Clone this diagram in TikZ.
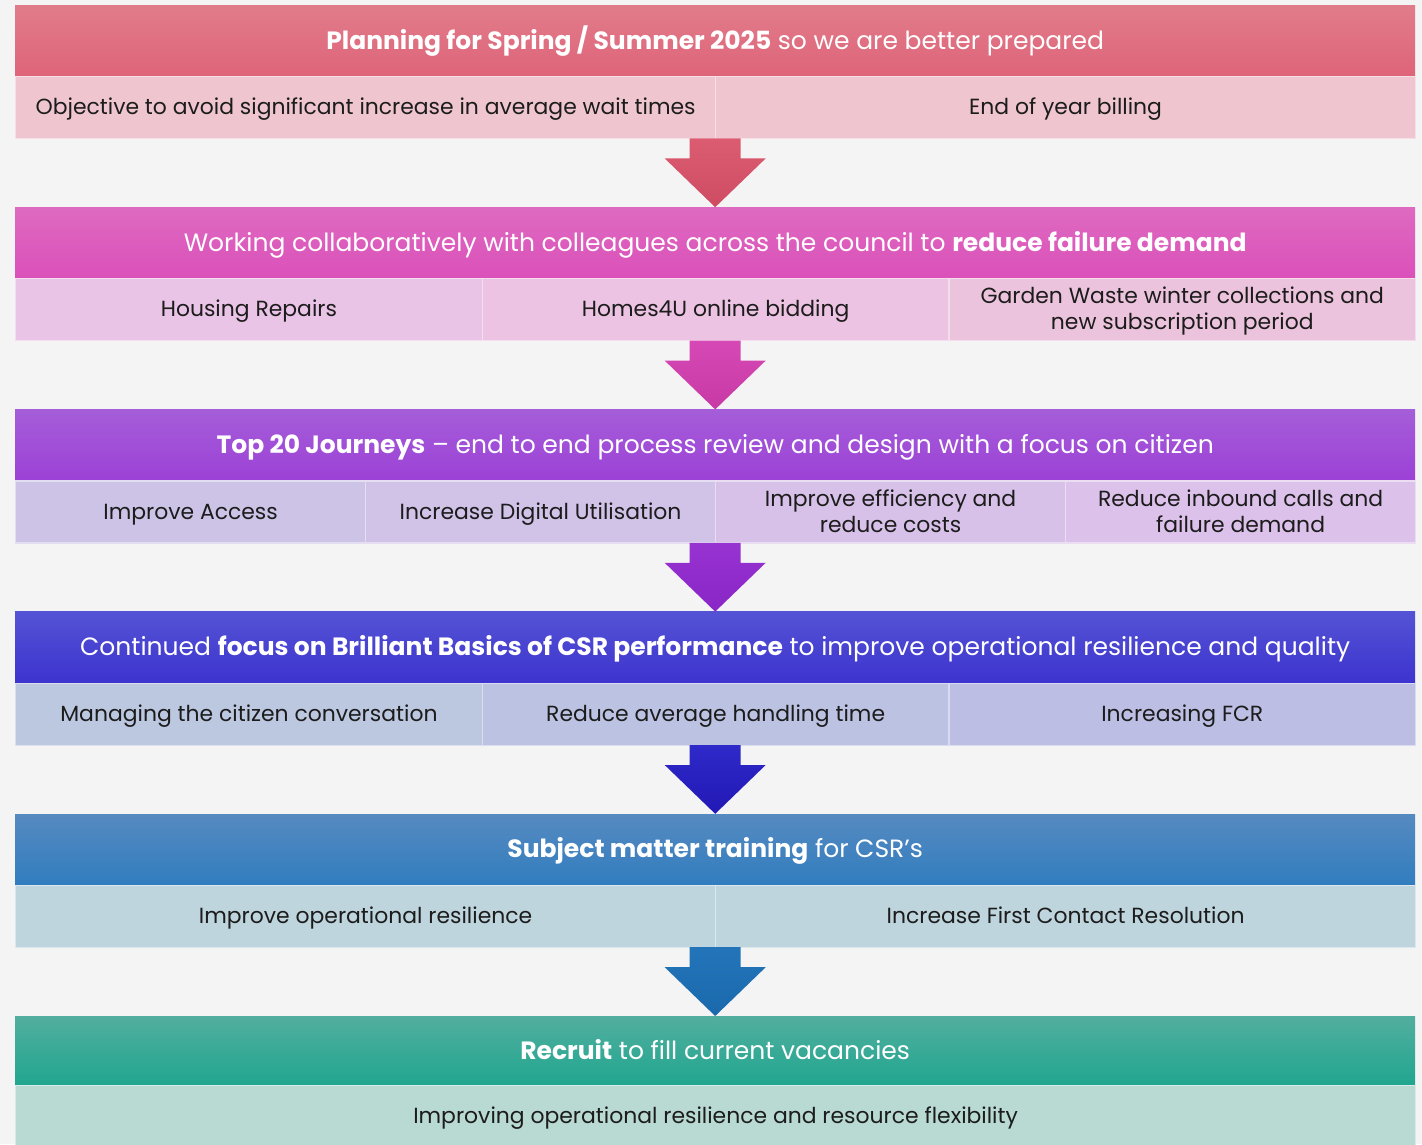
\documentclass[tikz,border=0pt]{standalone}
\usepackage{fontspec}
\setmainfont{Poppins}
\usetikzlibrary{calc}

\definecolor{pagebg}{HTML}{F4F4F4}
\definecolor{txt}{HTML}{1C1C1C}
% band 1 (rose)
\definecolor{hA1}{HTML}{E07C8A}\definecolor{hB1}{HTML}{DF6479}
\definecolor{sA1}{HTML}{EFC6CF}
\definecolor{aA1}{HTML}{DB5C71}\definecolor{aB1}{HTML}{CF4C63}
% band 2 (magenta)
\definecolor{hA2}{HTML}{DE6AC0}\definecolor{hB2}{HTML}{DB50BA}
\definecolor{sA2}{HTML}{EAC4E6}\definecolor{sB2}{HTML}{ECC3E2}\definecolor{sC2}{HTML}{ECC3DC}
\definecolor{aA2}{HTML}{D648B5}\definecolor{aB2}{HTML}{C73AA5}
% band 3 (violet)
\definecolor{hA3}{HTML}{A55DD9}\definecolor{hB3}{HTML}{9C41D6}
\definecolor{sA3}{HTML}{CCC3E6}\definecolor{sB3}{HTML}{D1C2E7}\definecolor{sC3}{HTML}{D7C1E8}\definecolor{sD3}{HTML}{DCC1EA}
\definecolor{aA3}{HTML}{9733D1}\definecolor{aB3}{HTML}{8A25C6}
% band 4 (indigo)
\definecolor{hA4}{HTML}{5453D4}\definecolor{hB4}{HTML}{3D33CF}
\definecolor{sA4}{HTML}{BCC7E0}\definecolor{sB4}{HTML}{BCC2E2}\definecolor{sC4}{HTML}{BCBEE4}
\definecolor{aA4}{HTML}{2E29C9}\definecolor{aB4}{HTML}{2218B5}
% band 5 (blue)
\definecolor{hA5}{HTML}{568AC0}\definecolor{hB5}{HTML}{317DBF}
\definecolor{sA5}{HTML}{BED5DE}
\definecolor{aA5}{HTML}{2474B9}\definecolor{aB5}{HTML}{1A69AD}
% band 6 (teal)
\definecolor{hA6}{HTML}{52AE9F}\definecolor{hB6}{HTML}{20A68F}
\definecolor{sA6}{HTML}{B8DAD3}

% line struts that centre the lettering in its box
\newcommand{\cst}{\rule[-5pt]{0pt}{25pt}}
\newcommand{\hst}{\rule[-6pt]{0pt}{29pt}}

% downward block arrow from the bottom of one row to the top of the next header
\newcommand{\flowarrow}[4]{%
  \shade[top color=#3, bottom color=#4]
    ($(#1.south)+(-25.5,0)$) -- ($(#1.south)+(25.5,0)$) --
    ($(#1.south)+(25.5,-20)$) -- ($(#1.south)+(50.5,-20)$) --
    (#2.north) --
    ($(#1.south)+(-50.5,-20)$) -- ($(#1.south)+(-25.5,-20)$) -- cycle;}

\begin{document}
\begin{tikzpicture}[x=1pt,y=1pt,
  header/.style={anchor=north west, minimum width=1400pt, minimum height=71pt,
    inner sep=0pt, text=white, font=\fontsize{25}{28}\selectfont},
  rowbox/.style={anchor=north west, minimum width=1400pt, minimum height=62pt, inner sep=0pt},
  cell/.style={anchor=north west, minimum height=62pt, inner sep=0pt, align=center,
    text=txt, font=\fontsize{21.9}{26}\selectfont, fill=#1, draw=#1!55!white, line width=1.2pt},
]
\useasboundingbox (0,0) rectangle (1422,-1144);
\clip (0,0) rectangle (1422,-1144);
\fill[pagebg] (0,0) rectangle (1422,-1144);

% ---------- band 1 ----------
\node[header, top color=hA1, bottom color=hB1] (h1) at (15,-5)
  {\hst\textbf{Planning for Spring / Summer 2025} so we are better prepared};
\node[rowbox] (r1) at (15,-76) {};
\node[cell=sA1, minimum width=700pt] (c11) at (15,-76)
  {\cst Objective to avoid significant increase in average wait times};
\node[cell=sA1, minimum width=700pt] (c12) at (715,-76) {\cst End of year billing};

% ---------- band 2 ----------
\node[header, top color=hA2, bottom color=hB2] (h2) at (15,-207.2)
  {\hst Working collaboratively with colleagues across the council to \textbf{reduce failure demand}};
\node[rowbox] (r2) at (15,-278.2) {};
\node[cell=sA2, minimum width=466.7pt] (c21) at (15,-278.2) {\cst Housing Repairs};
\node[cell=sB2, minimum width=466.7pt] (c22) at (481.7,-278.2) {\cst Homes4U online bidding};
\node[cell=sC2, minimum width=466.6pt] (c23) at (948.4,-278.2)
  {\cst Garden Waste winter collections and\\\cst new subscription period};

% ---------- band 3 ----------
\node[header, top color=hA3, bottom color=hB3] (h3) at (15,-409.4)
  {\hst\textbf{Top 20 Journeys} -- end to end process review and design with a focus on citizen};
\node[rowbox] (r3) at (15,-480.4) {};
\node[cell=sA3, minimum width=350pt] (c31) at (15,-480.4) {\cst Improve Access};
\node[cell=sB3, minimum width=350pt] (c32) at (365,-480.4) {\cst Increase Digital Utilisation};
\node[cell=sC3, minimum width=350pt] (c33) at (715,-480.4) {\cst Improve efficiency and\\\cst reduce costs};
\node[cell=sD3, minimum width=350pt] (c34) at (1065,-480.4) {\cst Reduce inbound calls and\\\cst failure demand};

% ---------- band 4 ----------
\node[header, top color=hA4, bottom color=hB4] (h4) at (15,-611.6)
  {\hst Continued \textbf{focus on Brilliant Basics of CSR performance} to improve operational resilience and quality};
\node[rowbox] (r4) at (15,-682.6) {};
\node[cell=sA4, minimum width=466.7pt] (c41) at (15,-682.6) {\cst Managing the citizen conversation};
\node[cell=sB4, minimum width=466.7pt] (c42) at (481.7,-682.6) {\cst Reduce average handling time};
\node[cell=sC4, minimum width=466.6pt] (c43) at (948.4,-682.6) {\cst Increasing FCR};

% ---------- band 5 ----------
\node[header, top color=hA5, bottom color=hB5] (h5) at (15,-813.8)
  {\hst\textbf{Subject matter training} for CSR’s};
\node[rowbox] (r5) at (15,-884.8) {};
\node[cell=sA5, minimum width=700pt] (c51) at (15,-884.8) {\cst Improve operational resilience};
\node[cell=sA5, minimum width=700pt] (c52) at (715,-884.8) {\cst Increase First Contact Resolution};

% ---------- band 6 ----------
\node[header, minimum height=69pt, top color=hA6, bottom color=hB6] (h6) at (15,-1016)
  {\hst\textbf{Recruit} to fill current vacancies};
\node[cell=sA6, minimum width=1400pt, minimum height=62pt] (c61) at (15,-1085)
  {\cst Improving operational resilience and resource flexibility};

% ---------- connecting arrows ----------
\flowarrow{r1}{h2}{aA1}{aB1}
\flowarrow{r2}{h3}{aA2}{aB2}
\flowarrow{r3}{h4}{aA3}{aB3}
\flowarrow{r4}{h5}{aA4}{aB4}
\flowarrow{r5}{h6}{aA5}{aB5}
\end{tikzpicture}
\end{document}
